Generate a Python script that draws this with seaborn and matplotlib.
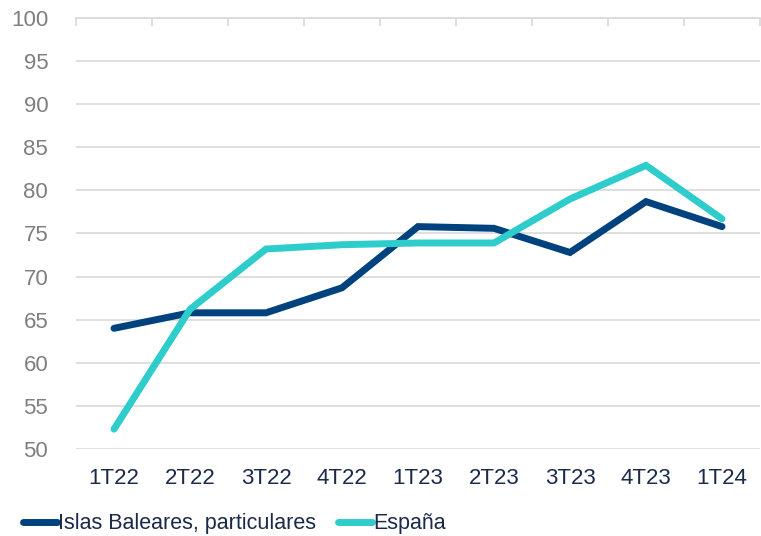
import matplotlib
matplotlib.use("Agg")
import matplotlib.pyplot as plt
import pandas as pd
import seaborn as sns

# trimestres
trimestres = ["1T22", "2T22", "3T22", "4T22", "1T23", "2T23", "3T23", "4T23", "1T24"]
# series
baleares = [64.0, 65.8, 65.8, 68.7, 75.8, 75.6, 72.8, 78.7, 75.8]
espana = [52.3, 66.2, 73.2, 73.7, 73.9, 73.9, 79.0, 82.9, 76.7]
series_nombres = ["Islas Baleares, particulares", "España"]
colores = ["#00427e", "#2ecccb"]

df = pd.DataFrame({
    "trimestre": trimestres * 2,
    "valor": baleares + espana,
    "serie": [series_nombres[0]] * len(trimestres) + [series_nombres[1]] * len(trimestres),
})

sns.set_style("white")
plt.rcParams["font.family"] = ["Liberation Sans", "DejaVu Sans"]

fig = plt.figure(figsize=(7.61, 5.36), dpi=100)
ax = fig.add_axes([76 / 761, 1 - 449 / 536, 684 / 761, 431 / 536])

sns.lineplot(data=df, x="trimestre", y="valor", hue="serie", palette=colores,
             linewidth=5, ax=ax, sort=False, legend=True)
for ln in ax.lines:
    ln.set_solid_capstyle("round")
    ln.set_solid_joinstyle("miter")

ax.set_xlim(-0.5, len(trimestres) - 0.5)
ax.set_ylim(50, 100)
ax.set_yticks(range(50, 101, 5))
ax.yaxis.grid(True, color="#d9d9d9", linewidth=1.2)
ax.set_axisbelow(True)
ax.set_xlabel("")
ax.set_ylabel("")

for s in ["left", "right", "bottom"]:
    ax.spines[s].set_visible(False)
ax.spines["top"].set_color("#d9d9d9")
ax.spines["top"].set_linewidth(1.2)

# marcas en la linea superior entre categorias
ax.set_xticks([i + 0.5 for i in range(-1, len(trimestres))], minor=True)
ax.tick_params(axis="x", which="minor", top=True, bottom=False, direction="in",
               length=6, color="#d9d9d9", width=1.2)
ax.tick_params(axis="x", which="major", length=0, pad=14, labelsize=16, labelcolor="#1b2a4a")
ax.tick_params(axis="y", length=0, pad=20, labelsize=16, labelcolor="#7f7f7f")

handles, labels = ax.get_legend_handles_labels()
ax.legend(handles, labels, loc="lower left", bbox_to_anchor=(14 / 761, -7 / 536),
          bbox_transform=fig.transFigure, ncol=2, frameon=False, fontsize=15.5,
          handlelength=1.6, handletextpad=0.05, columnspacing=1.0, labelcolor="#1b2a4a",
          borderaxespad=0)

fig.savefig("out.png", dpi=100)
